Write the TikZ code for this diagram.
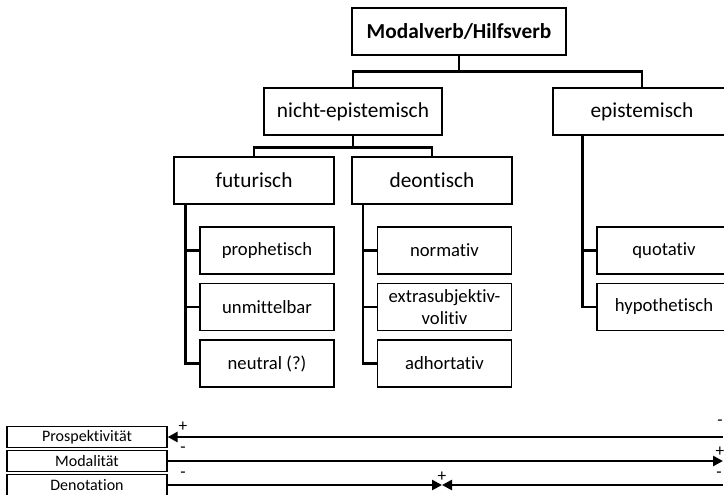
\documentclass[tikz,border=0pt]{standalone}
\usepackage{fontspec}
\setmainfont{Carlito}[Ligatures=NoCommon]
\usetikzlibrary{arrows.meta}

\begin{document}
\begin{tikzpicture}[
  x=0.75pt, y=-0.75pt,
  box/.style={draw, line width=0.9pt, minimum height=35.25pt, inner sep=0pt, align=center, font=\fontsize{14}{16.5}\selectfont},
  root/.style={box, minimum width=160.5pt, font=\fontsize{16}{19}\selectfont\bfseries},
  cat/.style={box, minimum width=133.5pt, font=\fontsize{16}{19}\selectfont},
  sub/.style={box, minimum width=120pt, font=\fontsize{16}{19}\selectfont},
  leaf/.style={box, minimum width=100.5pt},
  dimbox/.style={draw, line width=0.9pt, minimum width=120pt, minimum height=15.75pt, inner sep=0pt, font=\fontsize{12}{12}\selectfont},
  link/.style={line width=2.1pt},
  arr/.style={line width=2.1pt, -{Triangle[length=7.5pt,width=7.5pt]}},
  sign/.style={inner sep=0pt, font=\fontsize{13}{13}\selectfont}
]
\clip (0,0) rectangle (724,494);

% Tree nodes
\node[root] (mv) at (459,31.5) {Modalverb/Hilfsverb};
\node[cat] (nep) at (353,111.5) {nicht-epistemisch};
\node[cat] (ep) at (642,111.5) {epistemisch};
\node[sub] (fut) at (254,180.5) {futurisch};
\node[sub] (deo) at (432,180.5) {deontisch};

\node[leaf] (fut1) at (267,250.5) {prophetisch};
\node[leaf] (fut2) at (267,307) {unmittelbar};
\node[leaf] (fut3) at (267,363.5) {neutral (?)};

\node[leaf] (deo1) at (444.5,250.5) {normativ};
\node[leaf] (deo2) at (444.5,307) {extrasubjektiv-\\volitiv};
\node[leaf] (deo3) at (444.5,363.5) {adhortativ};

\node[leaf] (ep1) at (664,250.5) {quotativ};
\node[leaf] (ep2) at (664,307) {hypothetisch};

% Tree connectors
\draw[link] (mv.south) -- +(0,16) -| (nep.north);
\draw[link] (mv.south) -- +(0,16) -| (ep.north);
\draw[link] (nep.south) -- +(0,12) -| (fut.north);
\draw[link] (nep.south) -- +(0,12) -| (deo.north);

% Leaf buses
\path (fut1.west) ++(-14,0) coordinate (futbus);
\draw[link] (futbus |- fut.south) |- (fut3.west);
\foreach \k in {fut1,fut2}
  \draw[link] (futbus |- \k.west) -- (\k.west);

\path (deo1.west) ++(-14,0) coordinate (deobus);
\draw[link] (deobus |- deo.south) |- (deo3.west);
\foreach \k in {deo1,deo2}
  \draw[link] (deobus |- \k.west) -- (\k.west);

\path (ep1.west) ++(-14,0) coordinate (epbus);
\draw[link] (epbus |- ep.south) |- (ep2.west);
\draw[link] (epbus |- ep1.west) -- (ep1.west);

% Scales
\node[dimbox] (pro) at (87,437) {Prospektivität};
\node[dimbox] (mod) at (87,461) {Modalität};
\node[dimbox] (den) at (87,485) {Denotation};

\coordinate (proend) at (723,437);
\coordinate (modend) at (723,461);
\coordinate (denend) at (723,485);
\coordinate (denmid) at (442,485);

\draw[arr] (proend) -- (pro.east);
\draw[arr] (mod.east) -- (modend);
\draw[arr] (den.east) -- (denmid);
\draw[arr] (denend) -- (denmid);

% Signs
\node[sign] (proplus) at (183,427) {+};
\node[sign] (prominus) at (720,423) {-};
\node[sign] (modminus) at (183,450) {-};
\node[sign] (modplus) at (720,452) {+};
\node[sign] (denminus) at (183,475) {-};
\node[sign] (denplus) at (442,477) {+};
\node[sign] (denminusr) at (719,475) {-};

\end{tikzpicture}
\end{document}
